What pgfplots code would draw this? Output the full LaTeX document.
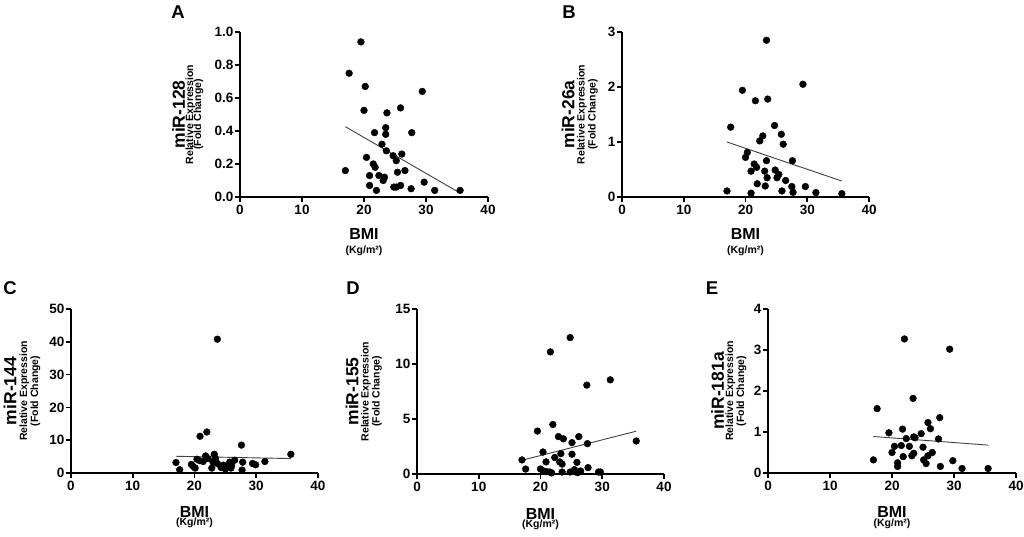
\documentclass[border=0pt]{standalone}
\usepackage{fontspec}
\setmainfont{Liberation Sans}
\usepackage{pgfplots}
\pgfplotsset{compat=1.18}

\pgfplotsset{
  panel/.style={
    scale only axis, width=248pt, height=165pt, anchor=south west,
    axis x line=bottom, axis y line=left,
    axis line style={-, line width=1.6pt},
    every tick/.style={black, line width=1.6pt},
    major tick length=5pt, tick align=outside,
    xmin=0, xmax=40, ymin=0, xtick={0,10,20,30,40},
    clip=false,
    ticklabel style={font=\fontsize{13.5}{14}\selectfont\bfseries},
    /pgf/number format/assume math mode=true,
    yticklabel style={inner sep=1.5pt},
  },
  pts/.style={only marks, mark=*, mark size=3.4pt, black},
  fitl/.style={no marks, line width=0.9pt, black!75},
}
\tikzset{
  mbig/.style={inner sep=0pt, font=\fontsize{17.5}{18}\selectfont\bfseries},
  msmall/.style={inner sep=0pt, font=\fontsize{10.5}{11}\selectfont\bfseries},
  mbmi/.style={inner sep=0pt, font=\fontsize{16}{16}\selectfont\bfseries},
  mletter/.style={inner sep=0pt, font=\fontsize{18.5}{19}\selectfont\bfseries},
}

\newcommand\ylabs[4]{%
  \node[rotate=90,mbig] at ([xshift=-#2pt]rel axis cs:0,0.5) {#1};
  \node[rotate=90,msmall] at ([xshift=-#3pt]rel axis cs:0,0.5) {Relative Expression};
  \node[rotate=90,msmall] at ([xshift=-#4pt]rel axis cs:0,0.5) {(Fold Change)};
}
\newcommand\xlabs[2]{%
  \node[mbmi] at ([yshift=-#1pt]rel axis cs:0.5,0) {BMI};
  \node[msmall] at ([yshift=-#2pt]rel axis cs:0.5,0) {(Kg/m²)};
}

\begin{document}
\begin{tikzpicture}
\path[use as bounding box] (0,0) rectangle (1024pt,537pt);

% Panel A
\begin{axis}[panel, at={(240pt,340pt)}, ymax=1, ytick={0,0.2,0.4,0.6,0.8,1},
  yticklabel style={/pgf/number format/.cd, fixed, fixed zerofill, precision=1}]
\addplot[pts] coordinates {
(19.5,0.94) (17.6,0.75) (20.2,0.67) (29.4,0.64) (20.0,0.525) (25.9,0.54)
(23.7,0.51) (23.5,0.42) (21.7,0.39) (23.5,0.38) (27.7,0.39) (22.9,0.32)
(23.6,0.28) (20.4,0.24) (24.7,0.25) (26.1,0.26) (25.2,0.22) (21.5,0.20)
(21.8,0.18) (17.0,0.16) (26.6,0.16) (25.4,0.15) (20.9,0.13) (22.4,0.13)
(23.3,0.12) (23.1,0.10) (29.7,0.09) (20.9,0.07) (25.9,0.07) (24.8,0.06)
(25.2,0.06) (27.6,0.05) (22.0,0.04) (31.4,0.04) (35.5,0.04)
};
\addplot[fitl] coordinates {(17.0,0.426) (35.3,0.028)};
\ylabs{miR-128}{61.5}{49.5}{41.5}
\xlabs{37.5}{54}
\end{axis}

% Panel B
\begin{axis}[panel, at={(622pt,340pt)}, width=247pt, ymax=3, ytick={0,1,2,3}]
\addplot[pts] coordinates {
(23.4,2.85) (29.3,2.05) (19.5,1.94) (21.6,1.75) (23.6,1.78) (17.6,1.27)
(24.7,1.30) (25.8,1.14) (22.8,1.11) (22.3,1.02) (26.1,0.96) (20.3,0.81)
(20.0,0.72) (23.4,0.66) (27.6,0.66) (21.4,0.60) (21.8,0.54) (24.8,0.49)
(20.9,0.47) (23.1,0.47) (25.4,0.41) (23.5,0.35) (25.1,0.35) (26.5,0.30)
(21.9,0.24) (23.2,0.20) (29.7,0.19) (27.5,0.19) (17.0,0.11) (25.9,0.11)
(27.7,0.085) (31.4,0.08) (20.9,0.07) (35.6,0.06)
};
\addplot[fitl] coordinates {(17.0,1.0) (35.6,0.29)};
\ylabs{miR-26a}{54}{40}{29}
\xlabs{37.5}{54}
\end{axis}

% Panel C
\begin{axis}[panel, at={(71pt,64pt)}, width=247pt, height=164pt, ymax=50, ytick={0,10,20,30,40,50}]
\addplot[pts] coordinates {
(23.7,40.8) (22.0,12.5) (20.9,11.2) (27.6,8.5) (35.6,5.7) (23.2,5.7)
(21.8,5.2) (23.4,4.4) (22.2,4.4) (20.4,4.2) (20.8,3.8) (21.4,3.5)
(23.0,3.3) (26.5,3.9) (25.7,3.3) (31.4,3.5) (17.0,3.2) (27.8,3.3)
(29.4,2.9) (29.9,2.5) (19.5,2.6) (19.8,2.0) (20.1,1.5) (23.7,2.9)
(24.7,2.4) (25.1,1.8) (25.7,2.0) (26.0,2.3) (22.8,1.5) (24.3,1.7)
(25.0,1.2) (17.6,1.0) (27.7,0.9) (25.9,1.5)
};
\addplot[fitl] coordinates {(17.0,5.1) (35.6,4.4)};
\ylabs{miR-144}{61}{46.5}{35.5}
\xlabs{38.5}{50}
\end{axis}

% Panel D
\begin{axis}[panel, at={(417pt,63pt)}, width=247pt, ymax=15, ytick={0,5,10,15}]
\addplot[pts] coordinates {
(24.8,12.4) (21.6,11.1) (31.3,8.56) (27.5,8.08) (22.0,4.5) (19.5,3.9)
(22.9,3.4) (23.7,3.2) (26.2,3.4) (35.5,3.0) (25.1,2.85) (27.6,2.76)
(20.4,2.0) (23.3,1.85) (25.1,1.8) (22.3,1.5) (17.0,1.28) (20.9,1.1)
(23.1,1.1) (25.9,1.06) (23.5,0.9) (17.6,0.45) (27.7,0.58) (20.0,0.45)
(20.4,0.3) (25.5,0.4) (21.0,0.21) (21.5,0.18) (21.8,0.1) (23.5,0.18)
(24.8,0.18) (26.0,0.12) (26.5,0.27) (29.4,0.18) (29.7,0.18)
};
\addplot[fitl] coordinates {(17.0,1.25) (35.5,3.89)};
\ylabs{miR-155}{65}{51}{40}
\xlabs{39.5}{51}
\end{axis}

% Panel E
\begin{axis}[panel, at={(768pt,64pt)}, height=164pt, ymax=4, ytick={0,1,2,3,4}]
\addplot[pts] coordinates {
(22.0,3.27) (29.3,3.02) (23.4,1.82) (17.6,1.57) (27.7,1.35) (25.8,1.23)
(26.2,1.08) (21.7,1.07) (19.5,0.98) (24.7,0.96) (23.5,0.88) (22.3,0.84)
(23.7,0.86) (27.5,0.83) (20.4,0.65) (21.5,0.67) (22.8,0.65) (25.0,0.63)
(20.0,0.5) (23.5,0.48) (26.5,0.5) (21.8,0.4) (23.2,0.42) (25.8,0.42)
(17.0,0.32) (25.1,0.32) (29.8,0.30) (20.9,0.25) (25.5,0.23) (20.9,0.16)
(27.8,0.16) (31.3,0.11) (35.5,0.11)
};
\addplot[fitl] coordinates {(17.0,0.89) (35.5,0.68)};
\ylabs{miR-181a}{50.5}{37.5}{26.5}
\xlabs{39}{51}
\end{axis}

\node[mletter] at (178pt,525pt) {A};
\node[mletter] at (569pt,525pt) {B};
\node[mletter] at (10pt,249pt) {C};
\node[mletter] at (353pt,249pt) {D};
\node[mletter] at (712pt,249pt) {E};
\end{tikzpicture}
\end{document}
